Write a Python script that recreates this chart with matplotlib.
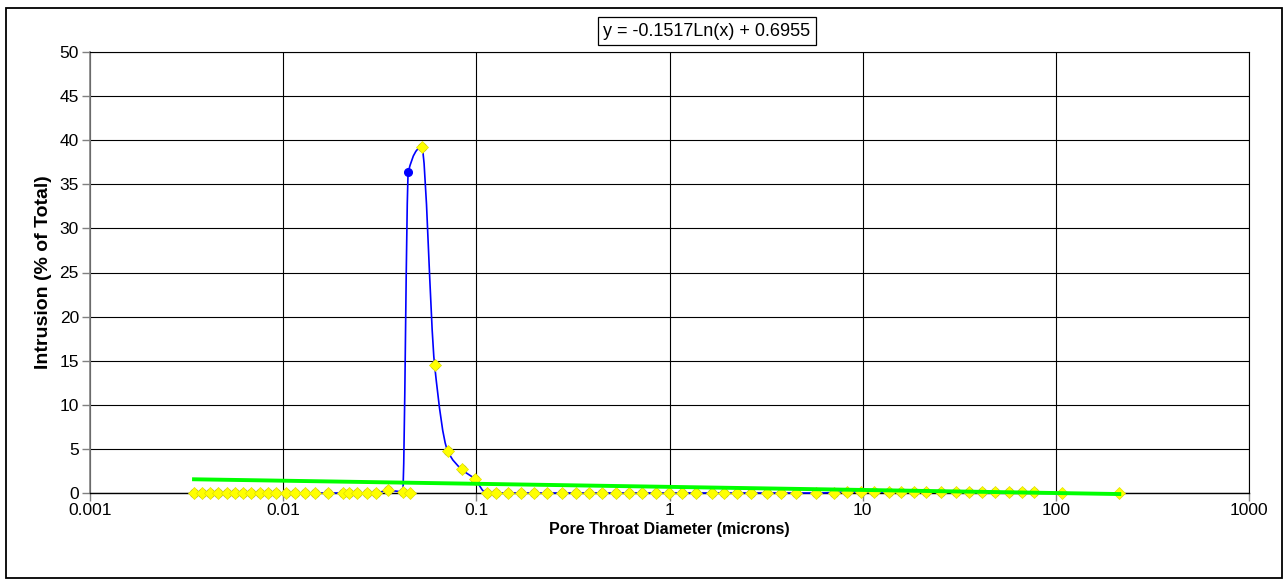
import matplotlib
matplotlib.use("Agg")
import matplotlib.pyplot as plt
from matplotlib.patches import Rectangle, PathPatch
from matplotlib.path import Path
import numpy as np

plt.rcParams['font.family'] = ['Liberation Sans', 'DejaVu Sans']

# Blue series (smoothed line with circle markers)
blue_x = [0.003455, 0.0038, 0.00418, 0.0046, 0.00512, 0.00563, 0.00619, 0.00681,
          0.00758, 0.00834, 0.00917, 0.01032, 0.0115, 0.01294, 0.01458, 0.01702,
          0.02035, 0.02185, 0.02404, 0.02707, 0.03013, 0.03476, 0.04156, 0.04446,
          0.05211, 0.06081, 0.07099, 0.08385, 0.09786, 0.1129, 0.1257, 0.1467,
          0.1712, 0.1999, 0.2333, 0.2790, 0.3295, 0.3846, 0.449, 0.5302, 0.6191,
          0.7226, 0.8536, 0.9965, 1.163, 1.374, 1.662, 1.918, 2.238, 2.644, 3.198,
          3.779, 4.517, 5.731, 7.099, 8.286, 9.788, 11.43, 13.66, 15.76, 18.39,
          21.22, 25.36, 30.31, 35.38, 41.30, 48.22, 56.94, 66.47, 76.69]
blue_y = [0, 0, 0, 0, 0, 0, 0, 0,
          0, 0, 0, 0, 0, 0, 0, 0,
          0, 0, 0, 0, 0, 0.3, 0.15, 36.4,
          39.2, 14.5, 4.8, 2.7, 1.6, 0, 0, 0,
          0, 0, 0, 0, 0, 0, 0, 0, 0,
          0, 0, 0, 0, 0, 0, 0, 0, 0, 0,
          0, 0, 0, 0.05, 0.1, 0.1, 0.1, 0.1, 0.1, 0.1,
          0.1, 0.1, 0.1, 0.1, 0.1, 0.1, 0.1, 0.1, 0.1]

# Yellow diamond series
yellow_x = blue_x[:23] + [0.04516] + blue_x[24:] + [107.0, 213.0]
yellow_y = blue_y[:23] + [0] + blue_y[24:] + [0, 0]

# Logarithmic trendline: y = a*ln(x) + b
trend_a = -0.1517
trend_b = 0.6955
trend_label = "y = -0.1517Ln(x) + 0.6955"

y_ticks = [0, 5, 10, 15, 20, 25, 30, 35, 40, 45, 50]
x_ticks = [0.001, 0.01, 0.1, 1, 10, 100, 1000]
x_tick_labels = ["0.001", "0.01", "0.1", "1", "10", "100", "1000"]

W, H = 1288, 585
fig = plt.figure(figsize=(W / 100, H / 100), dpi=100)
ax = fig.add_axes([90 / W, 1 - 493 / H, (1249 - 90) / W, (493 - 52) / H])

ax.set_xscale('log')
ax.set_xlim(0.001, 1000)
ax.set_ylim(0, 50)

ax.set_yticks(y_ticks)
ax.set_xticks(x_ticks)
ax.set_xticklabels(x_tick_labels)
ax.xaxis.set_minor_locator(matplotlib.ticker.NullLocator())

ax.grid(True, which='major', color='black', linewidth=0.8)
ax.set_axisbelow(True)

for s in ['top', 'right']:
    ax.spines[s].set_color('black')
    ax.spines[s].set_linewidth(0.8)
ax.spines['left'].set_color('#808080')
ax.spines['left'].set_linewidth(1.2)
ax.spines['bottom'].set_color('black')
ax.spines['bottom'].set_linewidth(1.0)

ax.tick_params(axis='y', direction='out', length=6, width=1.0, color='#808080',
               labelsize=12.5, pad=2)
ax.tick_params(axis='x', direction='out', length=6, width=1.0, color='#808080',
               labelsize=12.5, pad=1)

# Smoothed blue line: monotone cubic (Fritsch-Carlson) Bezier in screen-like units
pw, ph = 1159.0, 441.0
u = (np.log10(blue_x) + 3) / 6 * pw
v = np.array(blue_y) / 50 * ph
n = len(u)
h = np.diff(u)
d = np.diff(v) / h
m = np.zeros(n)
m[0], m[-1] = d[0], d[-1]
for k in range(1, n - 1):
    if d[k - 1] * d[k] <= 0:
        m[k] = 0.0
    else:
        w1 = 2 * h[k] + h[k - 1]
        w2 = h[k] + 2 * h[k - 1]
        m[k] = (w1 + w2) / (w1 / d[k - 1] + w2 / d[k])
verts = [(u[0], v[0])]
codes = [Path.MOVETO]
for k in range(n - 1):
    verts.append((u[k] + h[k] / 3, v[k] + m[k] * h[k] / 3))
    verts.append((u[k + 1] - h[k] / 3, v[k + 1] - m[k + 1] * h[k] / 3))
    verts.append((u[k + 1], v[k + 1]))
    codes += [Path.CURVE4] * 3
verts = np.array(verts)
vx = 10 ** (verts[:, 0] / pw * 6 - 3)
vy = verts[:, 1] / ph * 50
path = Path(np.column_stack([vx, vy]), codes)
ax.add_patch(PathPatch(path, facecolor='none', edgecolor='#0000FF', linewidth=1.2,
                       zorder=3, clip_on=False))

ax.plot(blue_x, blue_y, linestyle='none', marker='o', markersize=5.5,
        markerfacecolor='#0000FF', markeredgecolor='#0000FF', zorder=3,
        clip_on=False)
ax.plot(yellow_x, yellow_y, linestyle='none', marker='D', markersize=6,
        markerfacecolor='#FFFF00', markeredgecolor='#E0E000', markeredgewidth=0.5,
        zorder=4, clip_on=False)

tx = np.geomspace(min(yellow_x), max(yellow_x), 50)
ax.plot(tx, trend_a * np.log(tx) + trend_b, color='#00FF00', linewidth=2.8,
        zorder=5, clip_on=False)

ax.set_xlabel("Pore Throat Diameter (microns)", fontsize=11.5, fontweight='bold',
              labelpad=3)
ax.set_ylabel("Intrusion (% of Total)", fontsize=14, fontweight='bold',
              labelpad=5)

fig.text(707 / W, 1 - 31 / H, trend_label, ha='center', va='center', fontsize=13,
         bbox=dict(boxstyle='square,pad=0.3', facecolor='white',
                   edgecolor='black', linewidth=0.9))

fig.patches.append(Rectangle((6 / W, 1 - 578 / H), (1282 - 6) / W, (578 - 8) / H,
                             transform=fig.transFigure, fill=False,
                             edgecolor='black', linewidth=1.3))

fig.savefig("out.png", dpi=100)
